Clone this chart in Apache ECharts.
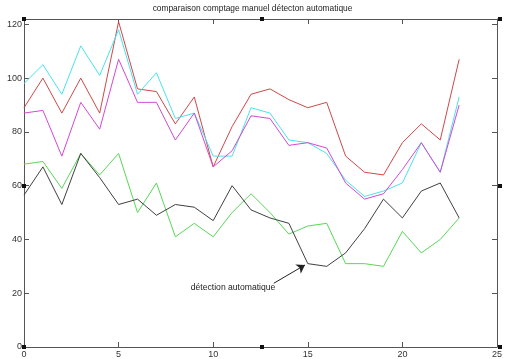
<!DOCTYPE html>
<html>
<head>
<meta charset="utf-8">
<script src="https://cdn.jsdelivr.net/npm/echarts@6/dist/echarts.min.js"></script>
<style>
html, body { margin: 0; padding: 0; background: #fff; }
#main { width: 505px; height: 359px; }
</style>
</head>
<body>
<div id="main"></div>
<script>
var xs = [0,1,2,3,4,5,6,7,8,9,10,11,12,13,14,15,16,17,18,19,20,21,22,23];

var rouge   = [89, 100, 87, 100, 87, 121, 96, 95, 83, 93, 67, 82, 94, 96, 92, 89, 91, 71, 65, 64, 76, 83, 77, 107];
var cyan    = [98, 105, 94, 112, 101, 118, 94, 102, 85, 87, 71, 71, 89, 87, 77, 76, 72, 62, 56, 58, 61, 76, 65, 93];
var magenta = [87, 88, 71, 91, 81, 107, 91, 91, 77, 87, 67, 73, 86, 85, 75, 76, 74, 61, 55, 57, 66, 76, 65, 90];
var vert    = [68, 69, 59, 72, 64, 72, 50, 61, 41, 46, 41, 50, 57, 50, 42, 45, 46, 31, 31, 30, 43, 35, 40, 48];
var auto    = [56.5, 67, 53, 72, 63, 53, 55, 49, 53, 52, 47, 60, 51, 48, 46, 31, 30, 35, 44, 55, 48, 58, 61, 48];

function pairs(v) {
    return xs.map(function (x, i) { return [x, v[i]]; });
}

var myChart = echarts.init(document.getElementById('main'));

var font = 'Liberation Sans, Arial, sans-serif';

function ligne(nom, data, couleur) {
    return {
        name: nom,
        type: 'line',
        data: pairs(data),
        symbol: 'none',
        lineStyle: { color: couleur, width: 1 },
        itemStyle: { color: couleur },
        animation: false
    };
}

var axeX = {
    type: 'value', min: 0, max: 25, interval: 5,
    axisLine: { onZero: false, lineStyle: { color: '#555', width: 1 } },
    axisTick: { inside: true, length: 5, lineStyle: { color: '#555' } },
    splitLine: { show: false }
};

var axeY = {
    type: 'value', min: 0, max: 122, interval: 20,
    axisLine: { show: true, onZero: false, lineStyle: { color: '#555', width: 1 } },
    axisTick: { show: true, inside: true, length: 5, lineStyle: { color: '#555' } },
    splitLine: { show: false }
};

var serieAuto = ligne('détection automatique', auto, '#404040');
serieAuto.markLine = {
    silent: true,
    symbol: ['none', 'arrow'],
    symbolSize: 8,
    label: { show: false },
    lineStyle: { color: '#222', width: 1, type: 'solid' },
    data: [[{ coord: [13.2, 23.7] }, { coord: [14.85, 30.5] }]]
};
serieAuto.markPoint = {
    silent: true,
    symbolSize: 0,
    label: {
        show: true, color: '#222', fontSize: 8.6, fontFamily: font,
        formatter: 'détection automatique'
    },
    data: [{ coord: [11.05, 22] }]
};

var poignees = [[24, 19], [262, 19], [500, 19], [24, 186], [500, 186], [24, 347], [262, 347], [500, 347]];

option = {
    backgroundColor: '#fff',
    title: {
        text: 'comparaison comptage manuel détecton automatique',
        left: 'center',
        top: 0,
        textStyle: { fontSize: 8.4, fontWeight: 'normal', color: '#222', fontFamily: font }
    },
    grid: { left: 24, right: 5, top: 19, bottom: 12, containLabel: false },
    xAxis: [
        Object.assign({}, axeX, {
            position: 'bottom',
            axisLabel: { color: '#333', fontSize: 9, fontFamily: font, margin: 3 }
        }),
        Object.assign({}, axeX, {
            position: 'top',
            axisLabel: { show: false }
        })
    ],
    yAxis: [
        Object.assign({}, axeY, {
            position: 'left',
            axisLabel: {
                color: '#333', fontSize: 9, fontFamily: font, margin: 2,
                formatter: function (v) { return v % 20 === 0 ? String(v) : ''; }
            }
        }),
        Object.assign({}, axeY, {
            position: 'right',
            axisLabel: { show: false }
        })
    ],
    graphic: poignees.map(function (p) {
        return {
            type: 'rect',
            shape: { x: p[0] - 2, y: p[1] - 2, width: 4, height: 4 },
            style: { fill: '#111' },
            z: 100
        };
    }),
    series: [
        ligne('manuel 1', rouge, '#d04848'),
        ligne('manuel 2', cyan, '#48e4ec'),
        ligne('manuel 3', magenta, '#d448d4'),
        ligne('manuel 4', vert, '#58d858'),
        serieAuto
    ],
    animation: false
};

myChart.setOption(option);
</script>
</body>
</html>
